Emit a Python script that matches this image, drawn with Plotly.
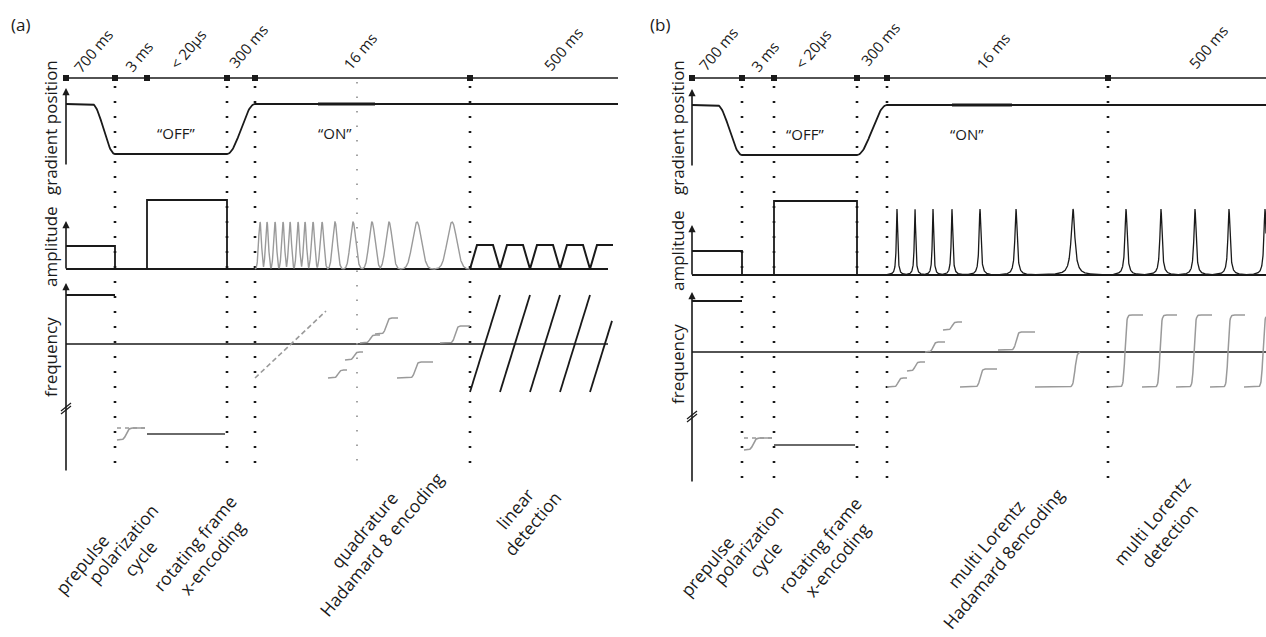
import numpy as np
import plotly.graph_objects as go

# ---------------- data (diagram coordinates) ----------------
A_EVENTS = [66, 115, 147, 227, 255, 470, 618]
B_EVENTS = [692, 742, 774, 857, 887, 1108, 1266]
DUR_LABELS = ["700 ms", "3 ms", "< 20µs", "300 ms", "16 ms", "500 ms"]
A_DUR_XY = [(93, 51), (139, 56), (188, 49), (248, 46), (360, 51), (563, 49)]
B_DUR_XY = [(718, 49), (765, 56), (813, 49), (880, 44), (993, 51), (1208, 47)]

A_PEAKS = [260, 267, 275, 283, 290, 298, 305, 313, 322, 335, 353, 372, 389, 417, 452]
A_PEAK_W = [1.4, 1.4, 1.4, 1.4, 1.4, 1.4, 1.4, 1.6, 1.8, 2.3, 2.8, 3.0, 3.2, 4.5, 4.8]
B_PEAKS = [897, 915, 933, 952, 980, 1016, 1073, 1126, 1161, 1195, 1229, 1265]
B_PEAK_G = [0.8, 0.8, 0.8, 0.9, 1.1, 1.3, 2.2, 1.3, 1.3, 1.3, 1.3, 1.3]

A_TRAP_START = [470, 500, 530, 560, 590]
A_CHIRP = [(470, 500), (500, 530), (530, 560), (560, 590), (590, 620)]

# frequency steps (x0, x1, y_low, y_high, x_center)
A_STEPS = [(328, 347, 378, 370, 338), (345, 363, 360, 352, 354), (360, 380, 343, 335, 370),
           (375, 398, 334, 318, 386), (397, 433, 378, 362, 415), (440, 470, 343, 326, 455)]
B_STEPS = [(887, 907, 387, 378, 898), (907, 925, 371, 362, 915), (925, 945, 352, 342, 933),
           (943, 962, 330, 322, 952), (960, 997, 387, 369, 980), (998, 1035, 350, 332, 1016),
           (1035, 1080, 387, 352, 1075)]
B_DET = [(1108, 1143, 1125), (1142, 1177, 1160), (1176, 1212, 1194), (1210, 1245, 1228), (1244, 1266, 1263)]

BOTTOM_A = [("prepulse", 82, 564), ("polarization<br>cycle", 131, 551),
            ("rotating frame<br>x-encoding", 203, 550), ("quadrature<br>Hadamard 8 encoding", 372, 537),
            ("linear<br>detection", 523, 516)]
BOTTOM_B = [("prepulse", 707, 566), ("polarization<br>cycle", 756, 552),
            ("rotating frame<br>x-encoding", 828, 552), ("multi Lorentz<br>Hadamard 8encoding", 994, 551),
            ("multi Lorentz<br>detection", 1160, 528)]

FONT = "Open Sans"
BLACK = "#1a1a1a"
GRAY = "#9a9a9a"

fig = go.Figure()


def line(xs, ys, color=BLACK, width=1.8, dash=None):
    fig.add_trace(go.Scatter(x=list(xs), y=list(ys), mode="lines",
                             line=dict(color=color, width=width, dash=dash),
                             hoverinfo="skip", showlegend=False))


def smooth(x0, x1, y0, y1, n=40):
    t = np.linspace(0, 1, n)
    s = (1 - np.cos(np.pi * t)) / 2
    return x0 + (x1 - x0) * t, y0 + (y1 - y0) * s


def sig_step(x0, x1, ylo, yhi, xc, w=2.5):
    xs = np.linspace(x0, x1, 80)
    ys = ylo + (yhi - ylo) * (1 + np.tanh((xs - xc) / w)) / 2
    return xs, ys


def panel(E, dur_xy, tl_y, g_hi, g_lo, amp_base, amp_pre, amp_rect, amp_top,
          f_top, f_pre, f_zero, f_brk, pol_dash, pol_lo, rot_y, bottom_dot, ramp_w,
          thick_seg, amp_end, extra_dot):
    x0, x1, x2, x3, x4, x5, xe = E
    # timeline
    line([x0, xe], [tl_y, tl_y], width=1.5)
    fig.add_trace(go.Scatter(x=[x0, x1, x2, x3, x4, x5], y=[tl_y] * 6, mode="markers",
                             marker=dict(symbol="square", size=6, color=BLACK),
                             hoverinfo="skip", showlegend=False))
    for lab, (lx, ly) in zip(DUR_LABELS, dur_xy):
        fig.add_annotation(x=lx, y=ly, text=lab, showarrow=False, textangle=-50,
                           font=dict(family=FONT, size=15, color=BLACK))
    # dotted verticals
    xs_dot = [x1, x3, x4, x5] + ([x2] if extra_dot else [])
    for xv in xs_dot:
        line([xv, xv], [tl_y + 8, bottom_dot], width=2.6, dash="2px,13px")

    # gradient position
    xs1, ys1 = smooth(x1 - ramp_w, x1, g_hi, g_lo)
    xs2, ys2 = smooth(x3, x4, g_lo, g_hi)
    gx = [x0] + list(xs1) + list(xs2) + [xe]
    gy = [g_hi] + list(ys1) + list(ys2) + [g_hi]
    line(gx, gy, width=1.8)
    line(thick_seg, [g_hi, g_hi], width=3.2)
    fig.add_annotation(x=x0, y=g_hi - 16, ax=x0, ay=g_lo + 12, xref="x", yref="y",
                       axref="x", ayref="y", text="", showarrow=True, arrowhead=2,
                       arrowsize=0.9, arrowwidth=1.6, arrowcolor=BLACK)
    fig.add_annotation(x=(x1 + x3) / 2 + 5, y=(g_hi + g_lo) / 2 + 4, text="“OFF”", showarrow=False,
                       font=dict(family=FONT, size=15, color=BLACK))
    fig.add_annotation(x=x4 + 80, y=(g_hi + g_lo) / 2 + 4, text="“ON”", showarrow=False,
                       font=dict(family=FONT, size=15, color=BLACK))

    # amplitude
    fig.add_annotation(x=x0, y=amp_top, ax=x0, ay=amp_base + 1, xref="x", yref="y",
                       axref="x", ayref="y", text="", showarrow=True, arrowhead=2,
                       arrowsize=0.9, arrowwidth=1.6, arrowcolor=BLACK)
    line([x0, x1, x1], [amp_pre, amp_pre, amp_base], width=1.8)
    line([x2, x2, x3, x3], [amp_base, amp_rect, amp_rect, amp_base], width=1.8)
    line([x0, amp_end], [amp_base, amp_base], width=1.8)

    # frequency
    fig.add_annotation(x=x0, y=f_top, ax=x0, ay=bottom_dot, xref="x", yref="y",
                       axref="x", ayref="y", text="", showarrow=True, arrowhead=2,
                       arrowsize=0.9, arrowwidth=1.6, arrowcolor=BLACK)
    line([x0, x1], [f_pre, f_pre], width=1.8)
    line([x0, amp_end], [f_zero, f_zero], width=1.6)
    line([x0 - 5, x0 + 5], [f_brk + 4, f_brk - 4], width=1.3)
    line([x0 - 5, x0 + 5], [f_brk + 7, f_brk - 1], width=1.3)
    # polarization cycle
    line([x1 + 2, x2 - 2], [pol_dash, pol_dash], color=GRAY, width=1.6, dash="4px,4px")
    px, py = sig_step(x1 + 2, x2 - 2, pol_lo, pol_dash, x1 + (x2 - x1) * 0.35, 2.5)
    line(px, py, color=GRAY, width=1.6)
    line([x2, x3 - 2], [rot_y, rot_y], color="#6a6a6a", width=2.2)


# ---- panel (a)
panel(A_EVENTS, A_DUR_XY, 78, 104, 154, 269, 246, 200, 221, 283, 295, 344, 407,
      428, 440, 434, 472, 23, [318, 375], 608, False)
# amplitude peaks (a)
xa = np.linspace(A_EVENTS[4], A_EVENTS[5], 1400)
ya = np.zeros_like(xa)
for p, w in zip(A_PEAKS, A_PEAK_W):
    ya = np.maximum(ya, np.exp(-0.5 * ((xa - p) / w) ** 2))
line(xa, 269 - 47 * ya, color=GRAY, width=1.4)
# trapezoids
tx, ty = [], []
for s in A_TRAP_START:
    tx += [s, s + 7, s + 23, s + 30]
    ty += [269, 245, 245, 269]
tx[-1] = 610
ty[-1] = 245
line(tx, ty, width=2.0)
# chirps
for c0, c1 in A_CHIRP:
    if c1 > 612:
        line([c0, 612], [392, 392 - (612 - c0) * 97 / 30], width=1.8)
    else:
        line([c0, c1], [392, 295], width=1.8)
# rotating frame diagonal (gray dashed)
line([255, 326], [378, 311], color=GRAY, width=1.6, dash="5px,3px")
for st in A_STEPS:
    sx, sy = sig_step(*st, w=2.2)
    line(sx, sy, color=GRAY, width=1.5)
# light dotted line in the middle of encoding
line([357, 357], [82, 472], color="#999999", width=1.8, dash="1.5px,13px")

# ---- panel (b)
panel(B_EVENTS, B_DUR_XY, 78, 105, 155, 275, 251, 201, 225, 292, 301, 352, 415,
      438, 450, 445, 483, 25, [952, 1012], 1266, True)
xb = np.linspace(B_EVENTS[4], 1266, 3000)
yb = np.zeros_like(xb)
for p, g in zip(B_PEAKS, B_PEAK_G):
    yb = np.maximum(yb, g ** 2 / ((xb - p) ** 2 + g ** 2))
line(xb, 275 - 66 * yb, color=BLACK, width=1.3)
for st in B_STEPS:
    sx, sy = sig_step(*st, w=2.0)
    line(sx, sy, color=GRAY, width=1.5)
for d0, d1, dc in B_DET:
    sx, sy = sig_step(d0, d1, 387, 315, dc, 1.6)
    line(sx, sy, color=GRAY, width=1.5)

# row labels
for x0, ys in [(50, (128, 247, 357)), (677, (128, 251, 364))]:
    for txt, yy in zip(["gradient position", "amplitude", "frequency"], ys):
        fig.add_annotation(x=x0, y=yy, text=txt, showarrow=False, textangle=-90,
                           font=dict(family=FONT, size=17, color=BLACK))

fig.add_annotation(x=20, y=24, text="(a)", showarrow=False, font=dict(family=FONT, size=17, color=BLACK))
fig.add_annotation(x=660, y=24, text="(b)", showarrow=False, font=dict(family=FONT, size=17, color=BLACK))

for txt, bx, by in BOTTOM_A + BOTTOM_B:
    fig.add_annotation(x=bx, y=by, text=txt, showarrow=False, textangle=-50,
                       font=dict(family=FONT, size=17.5, color=BLACK))

fig.update_layout(
    width=1266, height=637, margin=dict(l=0, r=0, t=0, b=0),
    paper_bgcolor="white", plot_bgcolor="white",
    xaxis=dict(range=[0, 1266], visible=False, fixedrange=True),
    yaxis=dict(range=[637, 0], visible=False, fixedrange=True),
)
fig.write_html("out.html", config={"displayModeBar": False},
               post_script="document.body.style.margin='0';document.body.style.overflow='hidden';")
